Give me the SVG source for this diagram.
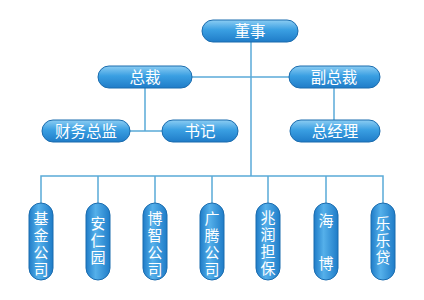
<svg xmlns="http://www.w3.org/2000/svg" width="424" height="300" viewBox="0 0 424 300">
<defs>
<linearGradient id="gh" x1="0" y1="0" x2="0" y2="1">
<stop offset="0" stop-color="#8ccdf3"/>
<stop offset="0.45" stop-color="#3a9fe2"/>
<stop offset="1" stop-color="#1f7cc8"/>
</linearGradient>
<linearGradient id="gv" x1="0" y1="0" x2="1" y2="0">
<stop offset="0" stop-color="#1f7cc8"/>
<stop offset="0.4" stop-color="#55b0ea"/>
<stop offset="1" stop-color="#1f7cc8"/>
</linearGradient>
<style>
.h{fill:url(#gh);stroke:#1b6cae;stroke-width:1}
.v{fill:url(#gv);stroke:#1b6cae;stroke-width:1}
.t{fill:#ffffff;font-family:"Liberation Sans","Noto Sans CJK SC",sans-serif;font-size:15.5px;text-anchor:middle}
.vt{fill:#ffffff;font-family:"Liberation Sans","Noto Sans CJK SC",sans-serif;font-size:15px;text-anchor:middle}
.c{fill:none;stroke:#5aaad8;stroke-width:1.5}
</style>
</defs>
<rect width="424" height="300" fill="#ffffff"/>
<g id="connectors">
<path class="c" d="M251 42V176"/>
<path class="c" d="M192 77H289"/>
<path class="c" d="M145 88V131M130 131H162"/>
<path class="c" d="M334 88V120"/>
<path class="c" d="M41 203V176H383V203"/>
<path class="c" d="M98 176V203M155 176V203M212 176V203M268 176V203M326 176V203"/>
</g>
<g id="n_dongshi"><rect class="h" x="202" y="20" width="96" height="22" rx="11"/><text class="t" x="250" y="37">董事</text></g>
<g id="n_zongcai"><rect class="h" x="98" y="66" width="94" height="22" rx="11"/><text class="t" x="145" y="83">总裁</text></g>
<g id="n_fuzongcai"><rect class="h" x="289" y="66" width="91" height="22" rx="11"/><text class="t" x="334" y="83">副总裁</text></g>
<g id="n_caiwu"><rect class="h" x="42" y="120" width="88" height="22" rx="11"/><text class="t" x="86" y="137">财务总监</text></g>
<g id="n_shuji"><rect class="h" x="162" y="120" width="76" height="22" rx="11"/><text class="t" x="200" y="137">书记</text></g>
<g id="n_zongjingli"><rect class="h" x="290" y="120" width="90" height="22" rx="11"/><text class="t" x="335" y="137">总经理</text></g>
<g id="n_jijin"><rect class="v" x="29" y="203" width="24" height="77" rx="12"/><text class="vt" x="41"><tspan x="41" y="224">基</tspan><tspan x="41" y="241">金</tspan><tspan x="41" y="258">公</tspan><tspan x="41" y="275">司</tspan></text></g>
<g id="n_anren"><rect class="v" x="86" y="203" width="24" height="77" rx="12"/><text class="vt" x="98"><tspan x="98" y="229">安</tspan><tspan x="98" y="246">仁</tspan><tspan x="98" y="263">园</tspan></text></g>
<g id="n_bozhi"><rect class="v" x="143" y="203" width="24" height="77" rx="12"/><text class="vt" x="155"><tspan x="155" y="224">博</tspan><tspan x="155" y="241">智</tspan><tspan x="155" y="258">公</tspan><tspan x="155" y="275">司</tspan></text></g>
<g id="n_guangteng"><rect class="v" x="200" y="203" width="24" height="77" rx="12"/><text class="vt" x="212"><tspan x="212" y="224">广</tspan><tspan x="212" y="241">腾</tspan><tspan x="212" y="258">公</tspan><tspan x="212" y="275">司</tspan></text></g>
<g id="n_zhaorun"><rect class="v" x="256" y="203" width="24" height="77" rx="12"/><text class="vt" x="268"><tspan x="268" y="223">兆</tspan><tspan x="268" y="240">润</tspan><tspan x="268" y="257">担</tspan><tspan x="268" y="274">保</tspan></text></g>
<g id="n_haibo"><rect class="v" x="314" y="203" width="24" height="77" rx="12"/><text class="vt" x="326"><tspan x="326" y="226">海</tspan><tspan x="326" y="269">博</tspan></text></g>
<g id="n_leledai"><rect class="v" x="371" y="203" width="24" height="77" rx="12"/><text class="vt" x="383"><tspan x="383" y="229">乐</tspan><tspan x="383" y="246">乐</tspan><tspan x="383" y="263">贷</tspan></text></g>
</svg>
